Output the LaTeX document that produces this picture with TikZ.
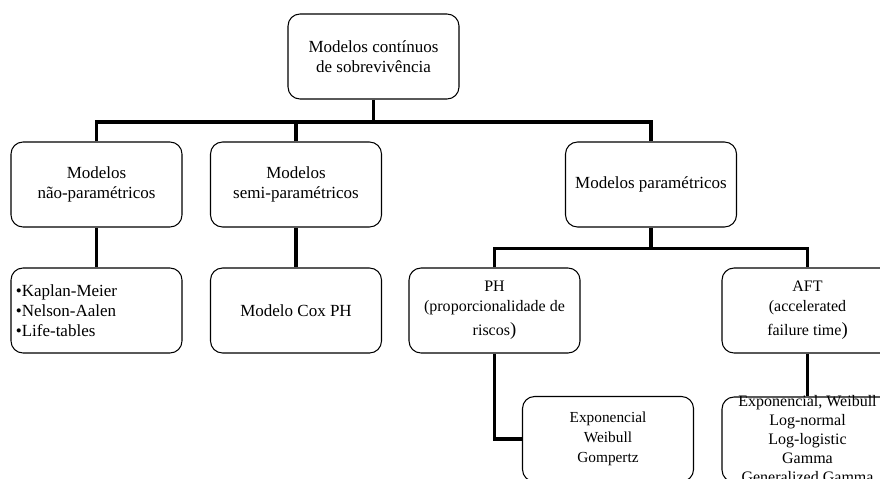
\documentclass[tikz,border=0pt]{standalone}
\usepackage{fontspec}
\setmainfont{Liberation Serif}
\usepackage{tikz}
\usetikzlibrary{calc}
\def\bigParen{{\fontsize{14}{15}\selectfont)}}

\begin{document}
\begin{tikzpicture}[x=0.75pt, y=-0.75pt,
  box/.style={draw, line width=0.8pt, rounded corners=9pt, fill=white,
    minimum width=128.25pt, minimum height=63.75pt, inner sep=2pt,
    align=center, font=\fontsize{12.75}{15}\selectfont},
  small/.style={font=\fontsize{12}{15}\selectfont},
  conn/.style={line width=2.5pt}]
  \path[use as bounding box] (0,0) rectangle (880,478);
  \clip (0,0) rectangle (880,478);
  % top level
  \node[box] (root) at (373.5,56.5) {Modelos contínuos\\ de sobrevivência};
  \node[box] (nonpar) at (96.5,184.5) {Modelos\\ não-paramétricos};
  \node[box] (semi) at (296,184.5) {Modelos\\ semi-paramétricos};
  \node[box] (param) at (651,184.5) {Modelos paramétricos};
  % second level
  \node[box, align=left, text width=121pt, inner xsep=3.5pt] (kaplan) at (96.5,310.5)
    {\textbullet Kaplan-Meier\\ \textbullet Nelson-Aalen\\ \textbullet Life-tables};
  \node[box] (cox) at (296,310.5) {Modelo Cox PH};
  \node[box, small] (ph) at (494.5,310.5) {PH\\ (proporcionalidade de\\[3pt] riscos\bigParen};
  \node[box, small] (aft) at (807.5,310.5) {AFT\\ (accelerated\\[3pt] failure time\bigParen};
  % third level
  \node[box, font=\fontsize{11.5}{15}\selectfont] (expo) at (608,439) {Exponencial\\ Weibull\\ Gompertz};
  \node[box, inner ysep=-4pt, font=\fontsize{12}{14.25}\selectfont] (aftlist) at (807.5,439.5)
    {Exponencial, Weibull\\ Log-normal\\ Log-logistic\\ Gamma\\ Generalized Gamma};
  % connectors
  \coordinate (j1) at (373.5,122);
  \coordinate (j2) at (651,248.5);
  \draw[conn] (root.south) -- (j1);
  \draw[conn] (nonpar.north) |- (j1) -| (param.north);
  \draw[conn] (semi.north) -- (semi.north |- j1);
  \draw[conn] (nonpar.south) -- (kaplan.north);
  \draw[conn] (semi.south) -- (cox.north);
  \draw[conn] (param.south) -- (j2);
  \draw[conn] (ph.north) |- (j2) -| (aft.north);
  \draw[conn] (ph.south) |- (expo.west);
  \draw[conn] (aft.south) -- (aftlist.north);
\end{tikzpicture}
\end{document}
